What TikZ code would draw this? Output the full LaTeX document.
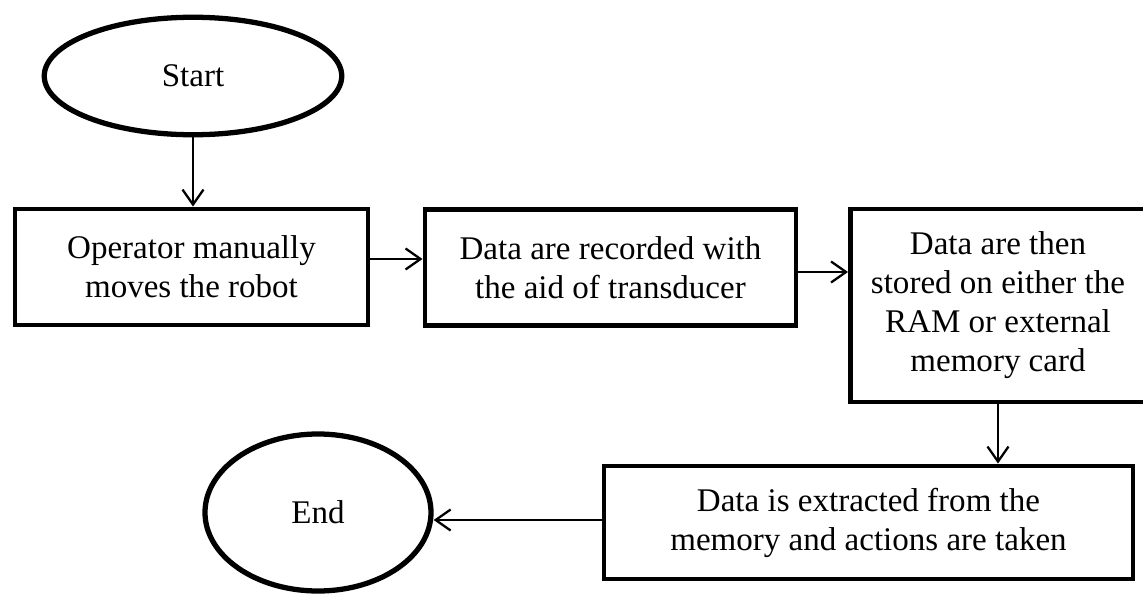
\documentclass[tikz,border=0pt]{standalone}
\usepackage{fontspec}
\setmainfont{Liberation Serif}
\usetikzlibrary{shapes.geometric,arrows.meta}

\begin{document}
\begin{tikzpicture}[>={Straight Barb[length=0.3cm,width=0.42cm]},
    font=\fontsize{18.8}{22.2}\selectfont,
    terminal/.style={ellipse, draw, line width=3pt, inner sep=0pt},
    stepbox/.style={rectangle, draw, line width=2.8pt, align=center, inner sep=0pt},
    flow/.style={->, line width=1.3pt}]
    \path[use as bounding box, clip] (0,0) rectangle (22.86,11.88);
    % Terminals
    \node[terminal, minimum width=5.95cm, minimum height=2.35cm] (start) at (3.86,10.36) {Start};
    \node[terminal, minimum width=4.52cm, minimum height=3.14cm] (end) at (6.36,1.63) {End};
    % Steps
    \node[stepbox, minimum width=7.06cm, minimum height=2.32cm] (operator) at (3.83,6.54)
        {Operator manually\\moves the robot};
    \node[stepbox, minimum width=7.42cm, minimum height=2.32cm] (record) at (12.21,6.53)
        {Data are recorded with\\the aid of transducer};
    \node[stepbox, minimum width=5.9cm, minimum height=3.86cm] (store) at (19.96,5.77)
        {Data are then\\stored on either the\\RAM or external\\memory card};
    \node[stepbox, minimum width=10.58cm, minimum height=2.26cm] (extract) at (17.37,1.43)
        {Data is extracted from the\\memory and actions are taken};
    % Connectors
    \draw[flow] (start) -- (start |- operator.north);
    \draw[flow] ([yshift=0.16cm]operator.east) -- ([yshift=0.16cm]operator.east -| record.west);
    \draw[flow] ([yshift=-0.09cm]record.east) -- ([yshift=-0.09cm]record.east -| store.west);
    \draw[flow] (store.south) -- (store.south |- extract.north);
    \draw[flow] ([yshift=0.05cm]extract.west) -- ([yshift=0.05cm]extract.west -| end.east);
\end{tikzpicture}
\end{document}
